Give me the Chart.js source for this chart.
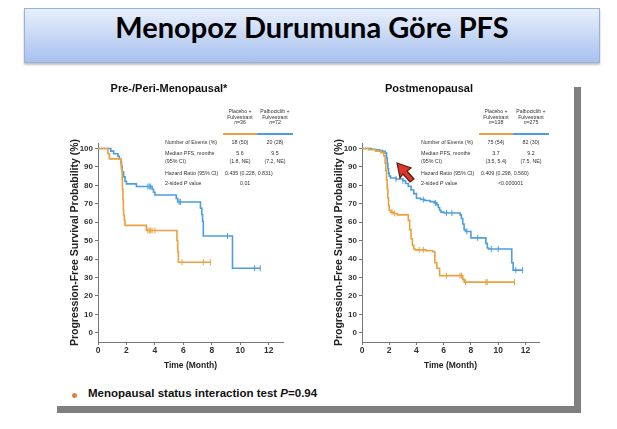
<!DOCTYPE html>
<html>
<head>
<meta charset="utf-8">
<title>Menopoz Durumuna Göre PFS</title>
<script src="https://cdn.jsdelivr.net/npm/chart.js"></script>
<style>
body { margin: 0; width: 617px; height: 429px; position: relative; background: #fff; overflow: hidden;
  font-family: "Liberation Sans", Arial, sans-serif; }
.banner { position: absolute; left: 24px; top: 8px; width: 574px; height: 53px; border: 1px solid #98b1dc;
  background: linear-gradient(#e8effc, #a7c1ee); box-shadow: 0 2px 2px rgba(0,0,0,0.25);
  text-align: center; line-height: 53px; font: bold 29px Lato, sans-serif; color: #000; }
.slide { position: absolute; left: 50px; top: 80px; width: 524px; height: 326px; background: #fff;
  box-shadow: 7px 7px 0 #7f7f7f; }
canvas { position: absolute; }
.tbl { position: absolute; width: 140px; height: 80px; font-size: 5.3px; color: #333; }
.tbl div { position: absolute; white-space: nowrap; line-height: 6px; }
.tbl .hd { text-align: center; width: 40px; line-height: 5.6px; font-size: 5.2px; }
.tbl .c { width: 40px; text-align: center; }
.tbl .bar { height: 2px; }
.note { position: absolute; left: 88px; top: 387px; font: bold 11.5px "Liberation Sans", Arial, sans-serif; color: #111; }
.dot { position: absolute; left: 72px; top: 393px; width: 5px; height: 5px; border-radius: 50%; background: #e0823f; }
</style>
</head>
<body>
<div class="banner">Menopoz Durumuna Göre PFS</div>
<div class="slide"></div>

<canvas id="pre" width="271" height="305" style="left:55px;top:75px"></canvas>
<canvas id="post" width="263" height="305" style="left:319px;top:75px"></canvas>

<div class="tbl" id="preTable" style="left:165px;top:108px"></div>
<div class="tbl" id="postTable" style="left:421px;top:108px"></div>

<svg style="position:absolute;left:394px;top:160px" width="24" height="26">
  <polygon points="3,3 17,8 13,11 20,19 16,22 9,14 6,18" fill="#d8392b" stroke="#5b1a12" stroke-width="1.2"/>
</svg>

<div class="dot"></div>
<div class="note">Menopausal status interaction test <i>P</i>=0.94</div>

<script>
const ORANGE = '#e9a23f';
const BLUE = '#4b9ee0';
const FONT = '"Liberation Sans", Arial, sans-serif';

const xTicks = [0, 2, 4, 6, 8, 10, 12];
const yTicks = [0, 10, 20, 30, 40, 50, 60, 70, 80, 90, 100];

// Pre-/Peri-menopausal, placebo + fulvestrant
const prePlaceboT = [0, 0.7, 0.8, 1.6, 1.65, 1.7, 1.72, 1.75, 1.78, 1.8, 1.85, 1.9, 3.4, 5.55, 5.6, 5.65, 7.9];
const prePlaceboS = [100, 97.2, 94.4, 91.7, 88.9, 83.3, 77.8, 72.2, 66.7, 63.9, 61.1, 58.3, 55.5, 50, 44, 38.3, 38.3];
const prePlaceboCensT = [3.5, 3.6, 3.7, 3.8, 4.0, 5.9, 7.4, 7.9];
const prePlaceboCensS = [55.5, 55.5, 55.5, 55.5, 55.5, 38.3, 38.3, 38.3];
// Pre-/Peri-menopausal, palbociclib + fulvestrant
const prePalboT = [0, 0.9, 1.1, 1.4, 1.5, 1.6, 1.65, 1.7, 1.8, 1.9, 2.0, 2.7, 3.8, 3.9, 4.0, 5.5, 5.6, 7.2, 7.3, 7.35, 7.4, 9.45, 11.4];
const prePalboS = [100, 98.6, 97.2, 95.8, 94.4, 93, 90.2, 87.4, 84.6, 82.2, 80.8, 79.4, 77.9, 76.3, 74.8, 72.9, 71, 67.6, 64.1, 60.5, 52.5, 35, 35];
const prePalboCensT = [3.5, 3.6, 3.7, 5.7, 5.8, 9.1, 11.0, 11.4];
const prePalboCensS = [79.4, 79.4, 79.4, 71, 71, 52.5, 35, 35];

// Postmenopausal, placebo + fulvestrant
const postPlaceboT = [0, 0.5, 1.0, 1.4, 1.6, 1.7, 1.75, 1.8, 1.85, 1.9, 1.95, 2.0, 2.1, 2.3, 2.6, 3.4, 3.5, 3.6, 3.7, 3.8, 3.9, 4.7, 5.2, 5.35, 5.5, 5.7, 7.4, 7.5, 11.2];
const postPlaceboS = [100, 99.3, 98.6, 97.8, 96, 92, 88, 83, 78, 73, 69, 66.5, 65.5, 64.7, 64, 61, 56, 51, 47.5, 45.5, 45, 44.5, 44, 38, 35, 31, 29, 27.5, 27.5];
const postPlaceboCensT = [2.2, 2.4, 4.2, 4.5, 6.2, 7.2, 7.3, 7.6, 9.1, 9.2, 11.2];
const postPlaceboCensS = [65.5, 64.7, 45, 45, 31, 31, 31, 27.5, 27.5, 27.5, 27.5];
// Postmenopausal, palbociclib + fulvestrant
const postPalboT = [0, 0.7, 1.0, 1.3, 1.5, 1.7, 1.8, 1.85, 1.9, 1.95, 2.0, 2.1, 2.5, 3.0, 3.2, 3.4, 3.6, 3.8, 4.0, 4.3, 4.6, 5.0, 5.3, 5.5, 5.6, 5.7, 5.8, 6.0, 7.2, 7.3, 7.4, 7.5, 7.6, 8.0, 9.1, 9.2, 9.3, 11.0, 11.1, 11.8];
const postPalboS = [100, 99.6, 99.3, 98.9, 98.5, 97.5, 95, 92, 89, 86.5, 85, 84, 83.5, 82.5, 81, 79.5, 77.5, 75.5, 73, 72.3, 71.8, 71.2, 70.5, 69.5, 68, 66.5, 65.5, 65, 64, 62, 59, 56, 55, 51.5, 48.5, 46, 45.5, 38, 34, 34];
const postPalboCensT = [2.5, 3.0, 4.5, 5.4, 6.2, 6.6, 7.7, 8.5, 9.5, 10.0, 11.3, 11.8];
const postPalboCensS = [83.5, 82.5, 72.3, 70.5, 65, 65, 55, 51.5, 45.5, 45.5, 34, 34];

// summary tables
const rowLabels = ['Number of Events (%)', 'Median PFS, months', '(95% CI)', 'Hazard Ratio (95% CI)', '2-sided <i>P</i> value'];
const preHeaders = [['Placebo +', 'Fulvestrant', '<i>n</i>=36'], ['Palbociclib +', 'Fulvestrant', '<i>n</i>=72']];
const preEvents = ['18 (50)', '20 (28)'];
const preMedian = ['5.6', '9.5'];
const preCI = ['(1.8, NE)', '(7.2, NE)'];
const preHR = '0.435 (0.228, 0.831)';
const preP = '0.01';
const postHeaders = [['Placebo +', 'Fulvestrant', '<i>n</i>=138'], ['Palbociclib +', 'Fulvestrant', '<i>n</i>=275']];
const postEvents = ['75 (54)', '82 (30)'];
const postMedian = ['3.7', '9.2'];
const postCI = ['(3.5, 5.4)', '(7.5, NE)'];
const postHR = '0.409 (0.298, 0.560)';
const postP = '&lt;0.000001';

function pts(t, s) {
  return t.map((x, i) => ({ x: x, y: s[i] }));
}

function censor(t, s, color) {
  return { type: 'scatter', data: pts(t, s), borderColor: color, backgroundColor: color,
    pointStyle: 'line', rotation: 90, radius: 3, borderWidth: 1, showLine: false };
}

function curve(t, s, color) {
  return { data: pts(t, s), borderColor: color, borderWidth: 1.6, stepped: true,
    pointRadius: 0, fill: false, tension: 0 };
}

function kmChart(id, title, sets) {
  return new Chart(document.getElementById(id), {
    type: 'line',
    data: { datasets: sets },
    options: {
      responsive: false,
      animation: false,
      devicePixelRatio: 1,
      layout: { padding: { left: 0, right: 43, top: 0, bottom: 0 } },
      plugins: {
        legend: { display: false },
        tooltip: { enabled: false },
        title: { display: true, text: title, color: '#111',
          font: { family: FONT, size: 11, weight: 'bold' }, padding: { top: 7, bottom: 47.8 } }
      },
      scales: {
        x: {
          type: 'linear', min: 0, max: 13,
          afterBuildTicks: s => { s.ticks = xTicks.map(v => ({ value: v })); },
          afterFit: s => { s.height = 38; },
          ticks: { autoSkip: false, maxRotation: 0, padding: 1, color: '#333',
            font: { family: FONT, size: 8.5, weight: 'bold' } },
          grid: { drawOnChartArea: false, tickLength: 3, color: '#777' },
          border: { color: '#777' },
          title: { display: true, text: 'Time (Month)', color: '#222',
            font: { family: FONT, size: 8.5, weight: 'bold' }, padding: { top: 0, bottom: 8.9 } }
        },
        y: {
          min: -5, max: 103,
          afterBuildTicks: s => { s.ticks = yTicks.map(v => ({ value: v })); },
          afterFit: s => { s.width = 43; },
          ticks: { padding: 2, color: '#333', font: { family: FONT, size: 8, weight: 'bold' } },
          grid: { drawOnChartArea: false, tickLength: 3, color: '#777' },
          border: { color: '#777' },
          title: { display: true, text: 'Progression-Free Survival Probability (%)', color: '#222',
            font: { family: FONT, size: 10.5, weight: 'bold' }, padding: { top: 14, bottom: 0 } }
        }
      }
    }
  });
}

kmChart('pre', 'Pre-/Peri-Menopausal*', [
  curve(prePlaceboT, prePlaceboS, ORANGE),
  curve(prePalboT, prePalboS, BLUE),
  censor(prePlaceboCensT, prePlaceboCensS, ORANGE),
  censor(prePalboCensT, prePalboCensS, BLUE)
]);

kmChart('post', 'Postmenopausal', [
  curve(postPlaceboT, postPlaceboS, ORANGE),
  curve(postPalboT, postPalboS, BLUE),
  censor(postPlaceboCensT, postPlaceboCensS, ORANGE),
  censor(postPalboCensT, postPalboCensS, BLUE)
]);

function buildTable(id, headers, events, median, ci, hr, p, pLeft) {
  const el = document.getElementById(id);
  let html = '';
  const cols = [55, 90];
  headers.forEach((h, i) => {
    html += `<div class="hd" style="left:${cols[i]}px;top:1px">${h.join('<br>')}</div>`;
  });
  html += `<div class="bar" style="left:58px;top:25px;width:34px;background:${ORANGE}"></div>`;
  html += `<div class="bar" style="left:92px;top:25px;width:36px;background:${BLUE}"></div>`;
  const rowY = [31, 42, 50, 62, 72];
  rowLabels.forEach((r, i) => {
    html += `<div style="left:0;top:${rowY[i]}px">${r}</div>`;
  });
  [events, median, ci].forEach((vals, k) => {
    vals.forEach((v, i) => {
      html += `<div class="c" style="left:${cols[i]}px;top:${rowY[k]}px">${v}</div>`;
    });
  });
  html += `<div style="left:60px;top:${rowY[3]}px">${hr}</div>`;
  html += `<div style="left:${pLeft}px;top:${rowY[4]}px">${p}</div>`;
  el.innerHTML = html;
}

buildTable('preTable', preHeaders, preEvents, preMedian, preCI, preHR, preP, 75);
buildTable('postTable', postHeaders, postEvents, postMedian, postCI, postHR, postP, 77);
</script>
</body>
</html>
